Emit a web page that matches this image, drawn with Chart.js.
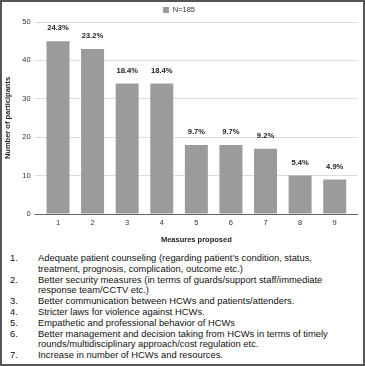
<!DOCTYPE html>
<html>
<head>
<meta charset="utf-8">
<script src="https://cdn.jsdelivr.net/npm/chart.js@4.4.1/dist/chart.umd.min.js"></script>
<style>
  html, body { margin: 0; padding: 0; background: #fff; }
  #wrap { position: relative; width: 365px; height: 366px; overflow: hidden; }
  #chartBox { position: absolute; left: 0; top: 0; width: 365px; height: 248px; }
  #frame { position: absolute; left: 0; top: 0; width: 365px; height: 366px; box-sizing: border-box;
           border: 2px solid #555; pointer-events: none; }
  #measures { position: absolute; left: 0; top: 253px; width: 365px; margin: 0; padding: 0; list-style: none;
              font-family: "Liberation Sans", Arial, sans-serif; font-size: 9.4px; line-height: 10.8px; color: #111; }
  #measures li { position: relative; padding-left: 38px; white-space: nowrap; }
  #measures li span.num { position: absolute; left: 10px; top: 0; }
</style>
</head>
<body>
<div id="wrap">
  <div id="chartBox"><canvas id="chart"></canvas></div>
  <ul id="measures"></ul>
  <div id="frame"></div>
</div>
<script>
// Data
const categories = ['1', '2', '3', '4', '5', '6', '7', '8', '9'];
const participants = [45, 43, 34, 34, 18, 18, 17, 10, 9];
const percentLabels = ['24.3%', '23.2%', '18.4%', '18.4%', '9.7%', '9.7%', '9.2%', '5.4%', '4.9%'];
const yTicks = [0, 10, 20, 30, 40, 50];
const seriesName = 'N=185';
const measures = [
  ['Adequate patient counseling (regarding patient\u2019s condition, status,', 'treatment, prognosis, complication, outcome etc.)'],
  ['Better security measures (in terms of guards/support staff/immediate', 'response team/CCTV etc.)'],
  ['Better communication between HCWs and patients/attenders.'],
  ['Stricter laws for violence against HCWs.'],
  ['Empathetic and professional behavior of HCWs'],
  ['Better management and decision taking from HCWs in terms of timely', 'rounds/multidisciplinary approach/cost regulation etc.'],
  ['Increase in number of HCWs and resources.']
];

// Footnote list
const list = document.getElementById('measures');
measures.forEach((lines, i) => {
  const li = document.createElement('li');
  const num = document.createElement('span');
  num.className = 'num';
  num.textContent = (i + 1) + '.';
  li.appendChild(num);
  lines.forEach((line, j) => {
    if (j > 0) li.appendChild(document.createElement('br'));
    li.appendChild(document.createTextNode(line));
  });
  list.appendChild(li);
});

const FONT = '"Liberation Sans", Arial, sans-serif';
const gridColor = (ctx) => (ctx.tick && ctx.tick.value === 0) ? '#666' : '#dcdcdc';

// Percent labels above bars
const barLabels = {
  id: 'barLabels',
  afterDatasetsDraw(chart) {
    const ctx = chart.ctx;
    const meta = chart.getDatasetMeta(0);
    ctx.save();
    ctx.font = 'bold 7.6px ' + FONT;
    ctx.fillStyle = '#222';
    ctx.textAlign = 'center';
    ctx.textBaseline = 'middle';
    meta.data.forEach((bar, i) => {
      ctx.fillText(percentLabels[i], bar.x, bar.y - 13);
    });
    ctx.restore();
  }
};

new Chart(document.getElementById('chart'), {
  type: 'bar',
  data: {
    labels: categories,
    datasets: [{
      label: seriesName,
      data: participants,
      backgroundColor: '#9b9b9b',
      borderWidth: 0,
      categoryPercentage: 1,
      barPercentage: 0.665
    }]
  },
  options: {
    responsive: true,
    maintainAspectRatio: false,
    animation: false,
    layout: { padding: { top: 0, right: 7, bottom: 2, left: 0 } },
    plugins: {
      legend: {
        position: 'top',
        maxHeight: 22,
        labels: {
          font: { family: FONT, size: 7.5 },
          color: '#333',
          boxWidth: 6,
          boxHeight: 6,
          padding: 6.25
        }
      },
      tooltip: { enabled: false }
    },
    scales: {
      x: {
        grid: { display: false, drawTicks: false },
        border: { display: false },
        ticks: { font: { family: FONT, size: 7.5 }, color: '#333', padding: 4 },
        title: {
          display: true,
          text: 'Measures proposed',
          font: { family: FONT, size: 7.5, weight: 'bold' },
          color: '#222',
          padding: { top: 4, bottom: 2 }
        }
      },
      y: {
        min: 0,
        max: 50,
        afterBuildTicks: (scale) => { scale.ticks = yTicks.map(v => ({ value: v })); },
        afterFit: (scale) => { scale.width = 40.7; },
        grid: { color: gridColor, drawTicks: true, tickLength: 6 },
        border: { display: false },
        ticks: { font: { family: FONT, size: 7.5 }, color: '#333', padding: 4 },
        title: {
          display: true,
          text: 'Number of participants',
          font: { family: FONT, size: 7.5, weight: 'bold' },
          color: '#222',
          padding: { top: 3, bottom: 0 }
        }
      },
      y2: {
        position: 'right',
        min: 0,
        max: 50,
        afterBuildTicks: (scale) => { scale.ticks = yTicks.map(v => ({ value: v })); },
        afterFit: (scale) => { scale.width = 6; },
        grid: { color: gridColor, drawOnChartArea: false, drawTicks: true, tickLength: 6 },
        border: { display: false },
        ticks: { display: false }
      }
    }
  },
  plugins: [barLabels]
});
</script>
</body>
</html>
